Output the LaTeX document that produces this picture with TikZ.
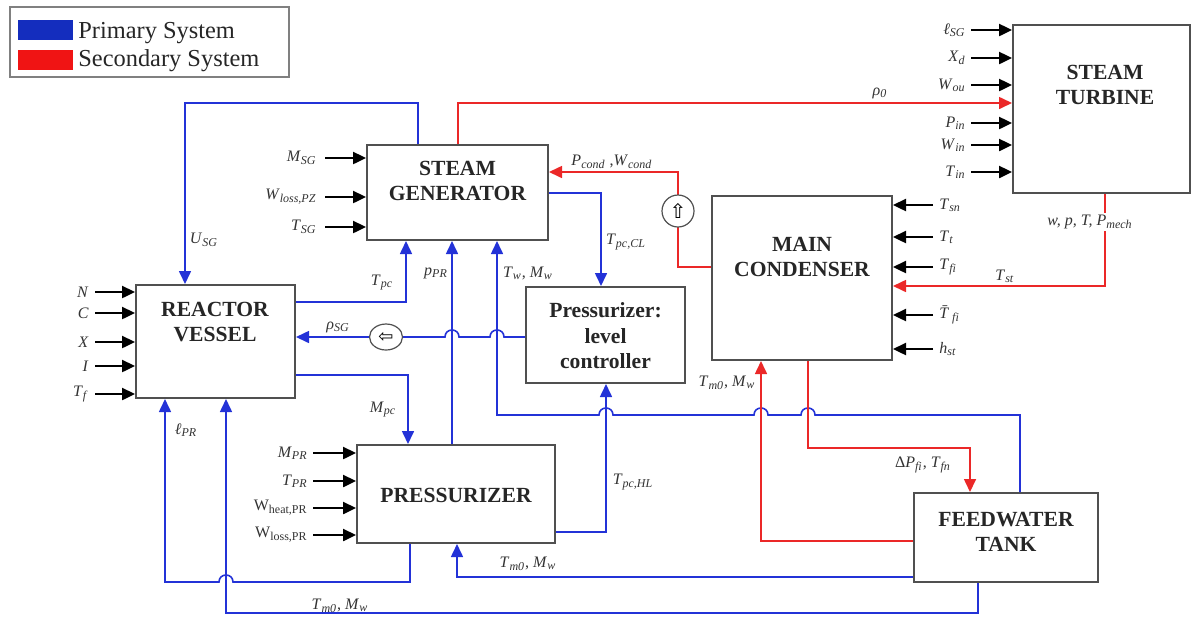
\documentclass[tikz,border=0pt]{standalone}
\usepackage{fontspec}
\setmainfont{Liberation Serif}
\newfontfamily\symfont{DejaVu Sans}
\usetikzlibrary{arrows.meta,shapes.geometric}
\definecolor{pblue}{RGB}{35,50,215}
\definecolor{sred}{RGB}{235,40,40}
\definecolor{boxgray}{RGB}{80,80,80}
\definecolor{legblue}{RGB}{20,45,190}
\definecolor{legred}{RGB}{240,20,20}
\newcommand\varlab[2]{\textit{#1}\textsubscript{\textit{#2}}}
\begin{document}
\begin{tikzpicture}[x=0.5pt,y=-0.5pt,
  box/.style={draw=boxgray, line width=1pt, fill=white, inner sep=0pt, rectangle},
  title/.style={font=\bfseries\fontsize{10.8}{12.8}\selectfont, align=center, text=black!85},
  lab/.style={font=\fontsize{8}{9}\selectfont, inner sep=1pt, text=black!80},
  inarr/.style={line width=1.2pt, -{Triangle[length=6.5pt,width=6pt]}},
  bl/.style={pblue, line width=0.8pt},
  bla/.style={bl, -{Triangle[length=6.5pt,width=6pt]}},
  rd/.style={sred, line width=0.8pt},
  rda/.style={rd, -{Triangle[length=6.5pt,width=6pt]}}]
\useasboundingbox (0,0) rectangle (1193,617);

% legend
\node[draw=gray, line width=0.6pt, minimum width=139.5pt, minimum height=35pt, inner sep=0pt] (legend) at (149.5,42) {};
\node[fill=legblue, minimum width=27.5pt, minimum height=10pt, inner sep=0pt] (swb) at (45.5,30) {};
\node[fill=legred, minimum width=27.5pt, minimum height=10pt, inner sep=0pt] (swr) at (45.5,60) {};
\node[anchor=west, font=\fontsize{12.2}{14}\selectfont, inner sep=0pt, text=black!85] (lp) at (78,33) {Primary System};
\node[anchor=west, font=\fontsize{12.2}{14}\selectfont, inner sep=0pt, text=black!85] (ls) at (78,61) {Secondary System};

% boxes
\node[box, minimum width=90.5pt, minimum height=47.5pt] (sg) at (457.5,192.5) {};
\node[box, minimum width=88.5pt, minimum height=84pt] (st) at (1101.5,109) {};
\node[box, minimum width=90pt, minimum height=82pt] (mc) at (802,278) {};
\node[box, minimum width=79.5pt, minimum height=56.5pt] (rv) at (215.5,341.5) {};
\node[box, minimum width=99pt, minimum height=49pt] (pr) at (456,494) {};
\node[box, minimum width=79.5pt, minimum height=48pt] (plc) at (605.5,335) {};
\node[box, minimum width=92pt, minimum height=44.5pt] (ft) at (1006,537.5) {};

\node[title] (sgt) at (457.5,181) {STEAM\\GENERATOR};
\node[title] (stt) at (1105,85) {STEAM\\TURBINE};
\node[title] (mct) at (802,257) {MAIN\\CONDENSER};
\node[title] (rvt) at (215,322) {REACTOR\\VESSEL};
\node[title] (prt) at (456,495) {PRESSURIZER};
\node[title] (plct) at (605.5,336) {Pressurizer:\\level\\controller};
\node[title] (ftt) at (1006,532) {FEEDWATER\\TANK};

% inputs
\foreach \yy/\lbl [count=\i] in {292/\textit{N}, 313/\textit{C}, 342/\textit{X}, 366/\textit{I}, 394/\varlab{T}{f}} {
  \coordinate (rvin\i) at (95,\yy);
  \node[lab, anchor=east] (rvlab\i) at (91,\yy) {\lbl};
  \draw[inarr] (rvin\i) -- (rvin\i -| rv.west);
}
\foreach \yy/\lbl [count=\i] in {158/\varlab{M}{SG}, 197/\varlab{W}{loss,PZ}, 227/\varlab{T}{SG}} {
  \coordinate (sgin\i) at (325,\yy);
  \node[lab, anchor=east] (sglab\i) at (319,\yy) {\lbl};
  \draw[inarr] (sgin\i) -- (sgin\i -| sg.west);
}
\foreach \yy/\lbl [count=\i] in {30/\varlab{ℓ}{SG}, 58/\varlab{X}{d}, 85/\varlab{W}{ou}, 123/\varlab{P}{in}, 145/\varlab{W}{in}, 172/\varlab{T}{in}} {
  \coordinate (stin\i) at (971,\yy);
  \node[lab, anchor=east] (stlab\i) at (968,\yy) {\lbl};
  \draw[inarr] (stin\i) -- (stin\i -| st.west);
}
\foreach \yy/\lbl [count=\i] in {205/\varlab{T}{sn}, 237/\varlab{T}{t}, 267/\varlab{T}{fi}, 315/{\textit{T̄}\textsubscript{\textit{fi}}}, 349/\varlab{h}{st}} {
  \coordinate (mcin\i) at (933,\yy);
  \node[lab, anchor=west] (mclab\i) at (937,\yy) {\lbl};
  \draw[inarr] (mcin\i) -- (mcin\i -| mc.east);
}
\foreach \yy/\lbl [count=\i] in {453/\varlab{M}{PR}, 481/\varlab{T}{PR}, 508/{W\textsubscript{heat,PR}}, 535/{W\textsubscript{loss,PR}}} {
  \coordinate (prin\i) at (313,\yy);
  \node[lab, anchor=east] (prlab\i) at (310,\yy) {\lbl};
  \draw[inarr] (prin\i) -- (prin\i -| pr.west);
}

% primary (blue) connectors
\draw[bla] (sg.north -| 418,0) -- (418,103) -- (185,103) -- (rv.north -| 185,0);
\draw[bla] (rv.east |- 0,302) -- (406,302) -- (sg.south -| 406,0);
\draw[bla] (pr.north -| 452,0) -- (sg.south -| 452,0);
\draw[bla] (ft.north -| 1020,0) -- (1020,415) -- (815,415)
  .. controls (815,405.67) and (801,405.67) .. (801,415) -- (768,415)
  .. controls (768,405.67) and (754,405.67) .. (754,415) -- (613,415)
  .. controls (613,405.67) and (599,405.67) .. (599,415) -- (497,415) -- (sg.south -| 497,0);
\draw[bla] (sg.east |- 0,193) -- (601,193) -- (plc.north -| 601,0);
\draw[bla] (plc.west |- 0,337) -- (504,337)
  .. controls (504,327.67) and (490,327.67) .. (490,337) -- (459,337)
  .. controls (459,327.67) and (445,327.67) .. (445,337) -- (rv.east |- 0,337);
\node[ellipse, draw=boxgray, fill=white, line width=0.6pt, minimum width=16.5pt, minimum height=13pt, inner sep=0pt] (valvel) at (386,337) {\symfont\fontsize{9}{9}\selectfont ⇦};
\draw[bla] (rv.east |- 0,375) -- (408,375) -- (pr.north -| 408,0);
\draw[bla] (pr.east |- 0,532) -- (606,532) -- (plc.south -| 606,0);
\draw[bla] (pr.south -| 410,0) -- (410,582) -- (233,582)
  .. controls (233,572.67) and (219,572.67) .. (219,582) -- (165,582) -- (rv.south -| 165,0);
\draw[bla] (ft.south -| 978,0) -- (978,613) -- (226,613) -- (rv.south -| 226,0);
\draw[bla] (ft.west |- 0,577) -- (457,577) -- (pr.south -| 457,0);

% secondary (red) connectors
\draw[rda] (sg.north -| 458,0) -- (458,103) -- (st.west |- 0,103);
\draw[rda] (mc.west |- 0,267) -- (678,267) -- (678,172) -- (sg.east |- 0,172);
\node[circle, draw=boxgray, fill=white, line width=0.6pt, minimum size=16pt, inner sep=0pt] (valveu) at (678,211) {\symfont\fontsize{10}{10}\selectfont ⇧};
\draw[rda] (st.south -| 1105,0) -- (1105,286) -- (mc.east |- 0,286);
\draw[rda] (ft.west |- 0,541) -- (761,541) -- (mc.south -| 761,0);
\draw[rda] (mc.south -| 808,0) -- (808,448) -- (970,448) -- (ft.north -| 970,0);

% connector labels
\node[lab] (lusg) at (204,240) {\varlab{U}{SG}};
\node[lab] (ltpc) at (382,283) {\varlab{T}{pc}};
\node[lab] (lppr) at (436,273) {\varlab{p}{PR}};
\node[lab] (ltw) at (528,273) {\varlab{T}{w}, \varlab{M}{w}};
\node[lab] (ltcl) at (626,242) {\varlab{T}{pc,CL}};
\node[lab] (lrsg) at (338,327) {\varlab{ρ}{SG}};
\node[lab] (lmpc) at (383,410) {\varlab{M}{pc}};
\node[lab] (lthl) at (633,482) {\varlab{T}{pc,HL}};
\node[lab] (llpr) at (186,430) {\varlab{ℓ}{PR}};
\node[lab] (ltm1) at (340,606) {\varlab{T}{m0}, \varlab{M}{w}};
\node[lab] (ltm2) at (528,564) {\varlab{T}{m0}, \varlab{M}{w}};
\node[lab] (lr0) at (880,93) {\varlab{ρ}{0}};
\node[lab] (lpc) at (612,162) {\varlab{P}{cond} ,\varlab{W}{cond}};
\node[lab, fill=white] (lwp) at (1090,222) {\textit{w, p, T, }\varlab{P}{mech}};
\node[lab] (ltst) at (1005,276) {\varlab{T}{st}};
\node[lab] (ltm3) at (727,383) {\varlab{T}{m0}, \varlab{M}{w}};
\node[lab] (ldp) at (923,465) {Δ\varlab{P}{fi}, \varlab{T}{fn}};
\end{tikzpicture}
\end{document}
